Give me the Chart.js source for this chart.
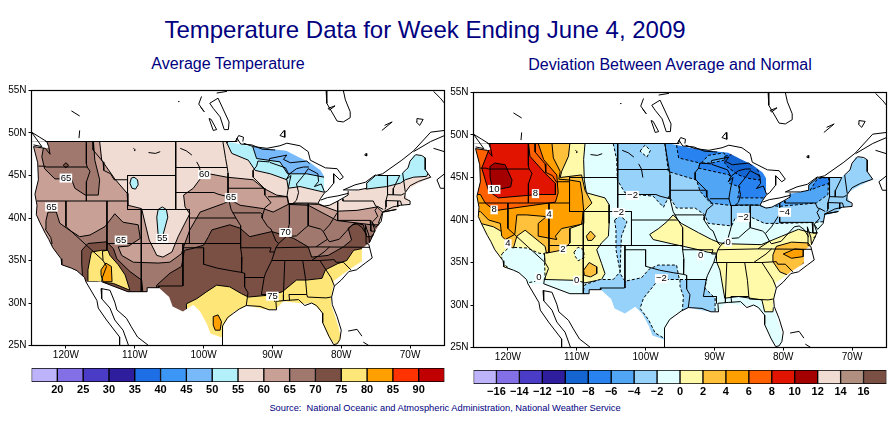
<!DOCTYPE html>
<html>
<head>
<meta charset="utf-8">
<title>Temperature Data for Week Ending June 4, 2009</title>
<script src="https://cdn.jsdelivr.net/npm/chart.js@4"></script>
<style>
  html, body { margin: 0; padding: 0; background: #fff; }
  body { width: 895px; height: 423px; position: relative; overflow: hidden; font-family: "Liberation Sans", Arial, sans-serif; color: #000080; }
  canvas { position: absolute; }
  .txt { position: absolute; white-space: pre; transform: translateX(-50%); }
  #title { left: 425px; top: 16px; font-size: 24px; }
  #subLeft { left: 228px; top: 55px; font-size: 16px; }
  #subRight { left: 670px; top: 56px; font-size: 16px; }
  #source { left: 445px; top: 403px; font-size: 9.3px; }
</style>
</head>
<body>
<div class="txt" id="title">Temperature Data for Week Ending June 4, 2009</div>
<div class="txt" id="subLeft">Average Temperature</div>
<div class="txt" id="subRight">Deviation Between Average and Normal</div>
<div class="txt" id="source">Source:  National Oceanic and Atmospheric Administration, National Weather Service</div>
<canvas id="mapTemp" width="450" height="285" style="left:0;top:80px"></canvas>
<canvas id="mapDev" width="450" height="285" style="left:445px;top:82px"></canvas>
<canvas id="barTemp" width="450" height="40" style="left:0;top:360px"></canvas>
<canvas id="barDev" width="450" height="40" style="left:445px;top:362px"></canvas>
<script>
// axis ticks
const lonTicks = [-120, -110, -100, -90, -80, -70];
const latTicks = [25, 30, 35, 40, 45, 50, 55];

// colour bars
const tempEdges = [15, 20, 25, 30, 35, 40, 45, 50, 55, 60, 65, 70, 75, 80, 85, 90, 95];
const tempColors = ['#bdb3fa', '#8470e6', '#4b3cc8', '#2e1e9e', '#1e6ee6', '#3c96f5', '#78b9fa', '#b4f0fa',
  '#f0dcd2', '#c8a096', '#a0786e', '#7a5045', '#ffe678', '#ffa000', '#ff3200', '#c00000'];
const devEdges = [-18, -16, -14, -12, -10, -8, -6, -4, -2, 0, 2, 4, 6, 8, 10, 12, 14, 16, 18];
const devColors = ['#bdb3fa', '#8470e6', '#4b3cc8', '#2e1e9e', '#1464d2', '#2882f0', '#50a5f5', '#96d2fa',
  '#e1ffff', '#fffaaa', '#ffc03c', '#ffa000', '#ff6000', '#e11400', '#a50000', '#f0dcd2', '#b08e80', '#7a5045'];

// whole map, lon/lat
const wholeMap = [[-125, 25], [-65, 25], [-65, 55], [-125, 55]];

// average temperature contours, lon/lat
const tempAbove60 = [[-115.1, 49], [-114.8, 46.8], [-112.9, 44.6], [-111.1, 42.9], [-111, 41.5], [-109, 41.1], [-108.5, 39.4],
  [-107.9, 37.4], [-106.8, 35.6], [-105.9, 35.4], [-104.6, 36], [-103.7, 37.8], [-102.7, 39.4], [-102, 40.5], [-102.7, 41.3],
  [-102.9, 42.7], [-101.5, 43.5], [-100.5, 44.6], [-99.2, 45.2], [-96.6, 44.8], [-92.8, 44.5], [-91.3, 43.5], [-89.4, 42.7],
  [-87.8, 42.5], [-87.7, 41.7], [-83.3, 41.6], [-80.6, 40.8], [-77.7, 40.9], [-74.8, 41.3], [-74, 40.7], [-74.6, 39.4],
  [-65, 39], [-65, 25], [-125, 25], [-125, 49]];
const tempNw65 = [[-123.1, 49], [-123.5, 47.2], [-123.1, 45.8], [-121.6, 44.6], [-119.2, 44.6], [-118.7, 43.5], [-117.2, 42.7],
  [-115.3, 42.7], [-115.1, 44.5], [-115.8, 46.8], [-116, 49]];
const tempNw70 = [[-120.4, 46.2], [-120, 46.5], [-119.6, 46.2], [-120, 45.9]];
const tempAbove65 = [[-122.6, 40.7], [-121.4, 40.7], [-120.9, 39.4], [-119.9, 38.8], [-118, 37.8], [-116.5, 38], [-114.3, 39],
  [-112.9, 40.5], [-111.7, 39.5], [-109.5, 39.2], [-109.2, 37.6], [-110.9, 36.7], [-112.4, 36.6], [-111.9, 35.6], [-110.2, 34.8],
  [-106.6, 34.7], [-104.9, 34.8], [-103.2, 35.8], [-102.9, 36.6], [-102, 38.6], [-101, 40], [-100.5, 40.7], [-97.1, 41.7],
  [-96, 42.1], [-94.7, 41.5], [-91.3, 41.1], [-89.9, 40.7], [-87.7, 41.6], [-84.8, 41.5], [-80.6, 39.7], [-75.6, 39.2],
  [-65, 39.2], [-65, 25], [-125, 25], [-125, 36], [-122, 37], [-122.2, 37.7], [-123, 38.7], [-122.9, 39.7]];
const tempAbove70 = [[-106.8, 32.1], [-104.9, 33.5], [-103.2, 34.3], [-103, 35.2], [-102.8, 36.2], [-101.7, 36.4], [-100, 36.8],
  [-99.3, 37.8], [-98.8, 38.6], [-96.2, 39.2], [-94.7, 38.8], [-93.3, 37.8], [-90.1, 38.4], [-88.4, 38], [-86.9, 37.6],
  [-84.8, 36.6], [-84.3, 35.4], [-81.9, 35.6], [-79.7, 36.6], [-78.5, 37.4], [-79, 38.8], [-78, 39.4], [-76.8, 39.2],
  [-76.3, 37.8], [-65, 37.8], [-65, 25], [-107, 25], [-107, 31]];
const tempSw70 = [[-117.7, 36.2], [-116.8, 37], [-114.1, 37.2], [-113.1, 36.4], [-112.6, 35.2], [-110.7, 33.7], [-109, 32.7],
  [-108.8, 31.1], [-113.1, 31.1], [-117.5, 31.9], [-117.7, 34.6]];
const tempAbove75 = [[-77, 36.4], [-78.2, 36.2], [-79.2, 35], [-80.6, 34.6], [-82.3, 33.9], [-82.8, 32.9], [-85, 32.7], [-86.5, 32.7],
  [-87.4, 32.1], [-88.6, 31.3], [-90.8, 30.9], [-93.5, 30.7], [-94.5, 31.1], [-96.2, 31.9], [-98.1, 32.1], [-99.6, 31.3],
  [-101, 30.5], [-102.5, 29.9], [-102.3, 25], [-65, 25], [-65, 36.4]];
const tempSw75 = [[-116.5, 35.2], [-116.3, 36], [-114.8, 36.2], [-113.9, 36.2], [-113.6, 35.6], [-112.4, 34.5], [-111.4, 33.3],
  [-110.7, 31.5], [-113.1, 32.3], [-115.5, 32.5], [-116.8, 32.5], [-116.8, 33.9]];
const tempSw80 = [[-114.9, 33.9], [-114.2, 34.7], [-113.4, 34.3], [-113.3, 32.5], [-114.6, 32.5], [-114.9, 33.3]];
const tempTx80 = [[-98.6, 28.4], [-97.9, 28.6], [-97.4, 27.8], [-97.6, 26.8], [-98.3, 26.8], [-98.6, 27.4]];
const tempBelow55North = [[-96.6, 48.8], [-95.9, 47.6], [-93.5, 46.8], [-92.5, 45.6], [-90.3, 45.2], [-87.9, 44.5], [-87.7, 43.5],
  [-86, 43.7], [-82.3, 43], [-80, 43], [-80, 50], [-96.6, 50]];
const tempBelow50North = [[-92.9, 48.5], [-92.3, 47], [-88.9, 46.6], [-87.8, 45.2], [-85, 45.2], [-82.5, 44.8], [-80, 45], [-80, 50], [-92.9, 50]];
const tempBelow55East = [[-76.4, 43.4], [-73.4, 43.7], [-71.4, 44.1], [-70.7, 44.5], [-69.5, 44.8], [-67.6, 44.9], [-66, 47.5], [-76.4, 47.5]];
const tempBelow55Wy = [[-110.7, 44.1], [-110.5, 44.7], [-110.1, 44.8], [-109.6, 44.5], [-109.5, 43.9], [-109.9, 43.4], [-110.4, 43.5]];
const tempBelow55Co = [[-106, 41.3], [-105.4, 41], [-105.2, 40.1], [-105.9, 38], [-106.6, 38], [-106.8, 40.1], [-106.6, 41]];

// deviation contours, lon/lat
const devWest0 = [[-108.8, 49], [-109, 47.1], [-108.9, 44.7], [-108.6, 43.2], [-105.9, 42.6], [-105.3, 41.8], [-105.3, 39.6],
  [-105.4, 38.1], [-106.4, 37.3], [-107.1, 36.5], [-106.4, 34.9], [-105.9, 33.7], [-106.4, 33], [-108.8, 32.6], [-110, 32.9],
  [-114.6, 33], [-115.6, 33.2], [-117.3, 32.8], [-125, 32.8], [-125, 49]];
const devEast0 = [[-99.4, 38.3], [-98.1, 39], [-96.9, 39.8], [-96, 40.6], [-94.8, 39.6], [-92.3, 38.5], [-90.4, 37.7], [-89.2, 37.3],
  [-88, 37.2], [-83.2, 37.1], [-80.2, 38.1], [-77.8, 38.9], [-75.9, 38.5], [-75, 38.5], [-75, 31.4], [-81.2, 31.4], [-81.5, 29.2],
  [-82.7, 29.2], [-83.1, 30.6], [-86.5, 31], [-88.5, 30.8], [-89.2, 34.1], [-89.7, 35.1], [-89.7, 36.1], [-90.9, 36.2],
  [-92.3, 36.5], [-94.5, 36.9], [-96.2, 37.2], [-98.9, 37.7]];
const devCaHole = [[-120.9, 36], [-119.8, 36.8], [-117.2, 36.7], [-115.5, 36.1], [-114.7, 36], [-114.6, 33], [-117.2, 32.6], [-120.9, 35]];
const devAzHole = [[-110.4, 36.2], [-109.8, 36.8], [-109, 36.5], [-108.9, 35.6], [-109.8, 35.2], [-110.2, 35.7]];
const devWest2 = [[-111, 49], [-111.2, 47.5], [-112.2, 45.7], [-112.4, 45], [-109.3, 45.3], [-108.8, 43.5], [-107.8, 42], [-109, 41],
  [-109, 39.6], [-111, 39], [-111, 37.3], [-111.9, 36.5], [-114.4, 36.1], [-114.6, 36.9], [-117.5, 38.8], [-118.7, 38.1],
  [-119.2, 36.7], [-119.9, 36.9], [-120.6, 38.5], [-122.1, 39.2], [-124, 39.6], [-125, 39.6], [-125, 49]];
const devNm2a = [[-108.6, 38.1], [-108, 38.7], [-107.3, 38.1], [-107.8, 37.6], [-108.4, 37.6]];
const devNm2b = [[-109, 34.1], [-108.2, 35], [-107.1, 34.5], [-107.1, 33.7], [-108, 33.3], [-108.9, 33.5]];
const devNc2 = [[-81.5, 35.9], [-81, 36.9], [-78.8, 37.4], [-76.4, 37.3], [-75.4, 36.3], [-77.8, 34.3], [-79.3, 33.5], [-80.5, 33.9], [-81.5, 35.1]];
const devNc4 = [[-80, 36], [-78.3, 36.6], [-77, 36.5], [-77.1, 35.7], [-78.8, 35.5]];
const devWest4 = [[-113.6, 49], [-113.4, 47.3], [-112.4, 45.7], [-112.6, 44.8], [-111, 44.7], [-109.5, 44.5], [-109.2, 43], [-109, 41.1],
  [-109.3, 39.5], [-111, 39.2], [-112.2, 39], [-113.1, 38.1], [-112.9, 37.7], [-115.6, 38.1], [-115.6, 39.6], [-114.4, 40.4],
  [-117.3, 40.6], [-118.7, 40.6], [-119, 38.3], [-120.4, 37.7], [-120.9, 38.1], [-121.1, 39.6], [-122.8, 40], [-124, 41],
  [-125, 41], [-125, 49]];
const devWest6 = [[-115.6, 49], [-114.8, 47.1], [-112.9, 45.3], [-112.7, 43.2], [-113.1, 42.1], [-121.9, 41.1], [-123.3, 42], [-124, 43], [-125, 43], [-125, 49]];
const devWest8 = [[-117, 49], [-116.8, 47.5], [-114.6, 45.5], [-113.1, 44.3], [-113.1, 43], [-115.6, 43], [-121.4, 42.6], [-122.8, 43.4],
  [-123.8, 46.1], [-122.6, 48.6], [-122.6, 49]];
const devWest10 = [[-122.6, 46.3], [-121.9, 46.7], [-120.4, 46.5], [-119.4, 44.7], [-119.6, 43.9], [-121.4, 43.6], [-122.3, 43.9], [-122.6, 45.1]];
const devNorthMinus2 = [[-104.7, 49], [-104.2, 47.1], [-104.1, 44.7], [-103, 43.2], [-101.3, 43], [-98.9, 42.8], [-97.4, 41.5], [-96.6, 42.8],
  [-95.5, 41.4], [-92.8, 41.4], [-91.4, 40.6], [-90.9, 39.6], [-87.5, 39.3], [-87, 40.2], [-84.6, 40.3], [-82.7, 39.6], [-80.7, 39.6],
  [-75.9, 39.7], [-74.2, 39.8], [-65, 39.8], [-65, 50], [-104.7, 50]];
const devNdHole = [[-100.8, 48.1], [-100.1, 48.8], [-99.3, 48.2], [-99.8, 47.4]];
const devTxMinus2 = [[-104.5, 40], [-103.7, 40.5], [-102.7, 39.8], [-103.5, 38.1], [-103.6, 36.5], [-103.7, 33.7], [-103, 32.8], [-100.6, 33.2],
  [-99.5, 34.2], [-98.2, 34.7], [-95.5, 34.7], [-95.1, 33], [-98.1, 33], [-100.3, 30.8], [-100.8, 29.6], [-99.6, 28.3], [-98.6, 26.7],
  [-96.9, 25.9], [-96.9, 25], [-109, 25], [-109, 31.8], [-108.8, 32.4], [-106.6, 33], [-104.7, 33], [-103.7, 33.9], [-104.3, 36.5], [-104.3, 38.8]];
const devLaMinus2 = [[-95, 33], [-91.1, 33], [-91.4, 32], [-89.9, 30.8], [-89.9, 29], [-94.7, 29], [-94.5, 31], [-95, 32.2]];
const devNorthMinus4 = [[-97.2, 49], [-96.7, 45.7], [-92.6, 44.7], [-92.1, 43.4], [-90.6, 42], [-87.5, 41.7], [-82.4, 41.8], [-80.6, 41.6],
  [-75.2, 42], [-73.5, 43], [-73.4, 45], [-73.4, 50], [-97.2, 50]];
const devNorthMinus6 = [[-95.5, 48.8], [-95.2, 47.3], [-92.1, 46.7], [-92.3, 46.1], [-87.8, 45.3], [-87.8, 44.3], [-86.3, 43.9], [-86.6, 42.6],
  [-81.9, 42.6], [-81, 42.6], [-81, 50], [-95.5, 50]];
const devNyMinus6 = [[-76.1, 43.5], [-75, 44.9], [-73.4, 45], [-73.4, 44.3], [-74.9, 43.9]];
const devMnMinus4 = [[-91.9, 46.7], [-90.9, 47.6], [-88.6, 47.9], [-88.3, 47.1], [-90.4, 46.7]];
const devNorthMinus8 = [[-88.5, 47.5], [-86.5, 47.9], [-84.4, 46.9], [-83.6, 45.7], [-83.4, 44.7], [-85.1, 44.9], [-86.5, 45.3], [-87.9, 46.1], [-88.5, 46.7]];

// everything outside the gridded area, lon/lat
const maskNorth = [[-125, 55], [-125, 49], [-96.6, 49], [-93, 48.4], [-90, 48.1], [-88, 47.9], [-86.3, 47.2], [-84.5, 46.5], [-83, 45.6],
  [-82.5, 44.9], [-82.5, 43], [-83.3, 41.8], [-82.5, 41.5], [-81.5, 41.6], [-80.5, 42], [-79.2, 42.5], [-79, 43.1], [-77.5, 43.3],
  [-76.3, 43.5], [-76.3, 44.2], [-75, 44.9], [-74.7, 45], [-71.5, 45], [-71.2, 45.3], [-70.5, 45.6], [-70, 46.5], [-69.5, 47.4],
  [-68.5, 47.3], [-67.8, 47.1], [-67.8, 45.7], [-67, 44.8], [-65, 44.8], [-65, 55]];
const maskSouth = [[-125, 49], [-122.8, 49], [-122.5, 48.3], [-123, 48.2], [-124.7, 48.4], [-124.1, 46.5], [-124, 44.5], [-124.5, 42.8],
  [-124.2, 41.5], [-124.3, 40.4], [-123.8, 39.5], [-123, 38.2], [-122.5, 37.5], [-121.9, 36.5], [-120.7, 35.2], [-120.6, 34.5],
  [-119.2, 34.1], [-118.4, 33.8], [-117.3, 33], [-117.1, 32.5], [-114.8, 32.5], [-111, 31.3], [-108.2, 31.3], [-108.2, 31.8],
  [-106.5, 31.8], [-105, 30.7], [-104.5, 29.6], [-103, 29], [-101.5, 29.8], [-100.5, 29], [-99.5, 27.5], [-99, 26.4], [-97.2, 25.9],
  [-97.1, 27.5], [-95.7, 28.9], [-93.7, 29.7], [-91.3, 29.3], [-89.6, 29.2], [-88.4, 30.2], [-85.3, 29.9], [-84.3, 30], [-83.5, 29.5],
  [-82.7, 28.8], [-82.7, 27.7], [-81.8, 26], [-81, 25.2], [-80.4, 25.2], [-80.1, 26], [-80.4, 27.2], [-81.5, 29.9], [-81.4, 30.7],
  [-81.1, 32.6], [-78.9, 33.9], [-77, 34.9], [-77, 36.4], [-75.9, 37.1], [-75.1, 38.4], [-74.2, 39.6], [-74, 40.5], [-72, 41],
  [-71.4, 41.5], [-70, 41.7], [-70.7, 42.7], [-70.5, 43.3], [-69, 44], [-67, 44.8], [-65, 44.8], [-65, 25], [-125, 25]];

// coasts, lakes and borders, lon/lat
const coastLines = [
  [[-122.8, 49], [-122.5, 48.4], [-122.3, 47.5], [-123, 48.2], [-124.7, 48.4], [-124.1, 46.5], [-124, 44.5], [-124.5, 42.8], [-124.2, 41.5],
    [-124.3, 40.4], [-123.8, 39.5], [-123, 38.2], [-122.5, 37.5], [-121.9, 36.5], [-120.7, 35.2], [-120.6, 34.5], [-119.2, 34.1],
    [-118.4, 33.8], [-117.3, 33], [-117.1, 32.5]],
  [[-125, 50.1], [-123.5, 48.4], [-124.7, 48.6]],
  [[-125, 50.1], [-123.8, 49.5], [-122.8, 49]],
  [[-97.2, 25], [-97.2, 25.9], [-97.3, 27.3], [-96.5, 28.3], [-94.8, 29.3], [-93.8, 29.7], [-91.8, 29.6], [-90.5, 29.2], [-89.4, 29.2],
    [-89.5, 30.2], [-88, 30.3], [-86.2, 30.4], [-85.3, 29.7], [-84.3, 30], [-83.6, 29.7], [-82.7, 28.8], [-82.7, 27.7], [-81.8, 26.1],
    [-81.1, 25.1], [-80.6, 25.2], [-80.2, 25.7], [-80, 26.8], [-80.6, 28.4], [-81.3, 29.8], [-81.4, 30.7], [-81, 32], [-80, 32.7],
    [-78.9, 33.7], [-77.8, 33.9], [-76.5, 34.7], [-75.5, 35.3], [-76, 36.9], [-76.3, 37], [-76.4, 38], [-76.5, 39.2], [-76, 38],
    [-75.9, 37.1], [-75.1, 38.5], [-75.5, 39.5], [-75, 38.9], [-74.2, 39.6], [-74, 40.5], [-74, 40.7], [-72, 41], [-74, 40.7],
    [-72.5, 41.3], [-71.4, 41.5], [-70, 41.6], [-70, 42], [-70.8, 42.3], [-70.7, 43], [-70, 43.8], [-68.8, 44.3], [-67, 44.8]],
  [[-117.1, 32.5], [-115.5, 30.3], [-115.3, 29.4], [-114.1, 28], [-112.2, 26], [-112.2, 25]],
  [[-114.9, 31.7], [-113.6, 31.5], [-112.9, 30.1], [-112.6, 29.2], [-111.2, 28.2], [-110.5, 27.2], [-109.6, 26], [-108, 25]],
  [[-114.9, 31.7], [-114.8, 30.5], [-113.6, 29.4], [-112.9, 28], [-111.7, 26.8], [-110.9, 25]],
  [[-79, 26.7], [-77.7, 26.9], [-77, 26.1]],
  [[-76.8, 25.4], [-76, 25]]
];
const lakeLines = [
  [[-92.1, 46.7], [-90.5, 46.6], [-90.4, 47], [-88.5, 47.3], [-87.9, 47.4], [-88.4, 46.9], [-87.4, 46.5], [-85, 46.7], [-84.6, 46.4]],
  [[-84.7, 46], [-85.5, 46], [-86.5, 45.8], [-87.5, 45.2], [-88, 44.5], [-87.3, 45], [-87.5, 44.3], [-87.7, 43.5], [-87.9, 42.5], [-87.6, 41.7],
    [-87, 41.7], [-86.5, 42.1], [-86.2, 43], [-86.5, 44], [-85.5, 45], [-84.8, 45.8], [-83.4, 45.2], [-83.3, 44.3], [-83.9, 43.7],
    [-82.9, 44], [-82.4, 43], [-83, 42.3], [-83.4, 41.7], [-82.5, 41.4], [-81.7, 41.5], [-80.5, 42], [-79, 42.7], [-79, 43.2]],
  [[-83, 42.1], [-82, 42.4], [-80.5, 42.6], [-79, 42.9]],
  [[-79.7, 43.3], [-79, 43.3], [-77.5, 43.3], [-76.3, 43.5], [-76.3, 44.1], [-75, 45], [-74, 45.2], [-71.2, 46.8], [-69.5, 47.9], [-67, 50.1], [-65, 50.3]],
  [[-79.7, 43.3], [-78, 43.9], [-76.5, 44.2], [-75, 45.1]],
  [[-69.5, 47.8], [-67, 49], [-65, 49.7]],
  [[-66.6, 48.2], [-65, 47.8]],
  [[-65, 45.2], [-66.1, 44.5], [-65.6, 43.5], [-65, 43.5]],
  [[-94.2, 48.8], [-92.8, 48.4], [-90.8, 48.2], [-88.9, 48.5], [-87.9, 48.8], [-86, 48.5], [-84.8, 47.8], [-84.5, 46.8], [-82.3, 45.9],
    [-80.6, 45.8], [-79.7, 44.8], [-80.2, 44.5], [-81.1, 45.2], [-81.1, 44.1], [-82, 43.2], [-82.4, 43]],
  [[-82.2, 55], [-82.1, 53.5], [-80.6, 51.4], [-79.7, 51.3], [-78.7, 51.8], [-78.7, 52.5], [-79.4, 53.9], [-79.7, 55]],
  [[-81.9, 52.9], [-80.9, 53.2], [-81.7, 52.7], [-81.9, 52.9]],
  [[-99.1, 53.5], [-97.9, 54.1], [-96.3, 51.3], [-96.4, 50.4], [-97, 50.4], [-97.6, 51.9], [-98.6, 52.9], [-99.1, 53.5]],
  [[-98.1, 54.7], [-96.6, 54.9]],
  [[-100.3, 54.3], [-100.7, 53.4], [-99.9, 52.5], [-100.4, 53]],
  [[-99.2, 51.7], [-98.6, 50.3], [-98.1, 50.4], [-98.9, 51.6], [-99.2, 51.7]],
  [[-95.4, 49], [-94.9, 49.7], [-94.2, 49.5], [-94.3, 49]],
  [[-88.9, 49.7], [-88.3, 50.3], [-88.2, 49.5], [-88.9, 49.7]],
  [[-119.2, 52.6], [-118, 52]],
  [[-118, 50.3], [-118.1, 49.4]],
  [[-103.7, 53.7], [-103.5, 53.7]],
  [[-74.1, 50.3], [-72.6, 51.3], [-73.7, 50.9]],
  [[-69, 51.7], [-68.1, 51.6], [-68.6, 50.9], [-69.1, 51.3], [-69, 51.7]],
  [[-76.6, 47.4], [-76.4, 47.6], [-76.3, 47.3], [-76.6, 47.4]],
  [[-66.6, 54.9], [-65.6, 54.1], [-65, 53.5]],
  [[-110.2, 48.2], [-109.9, 48], [-110.1, 47.9]],
  [[-108, 47.7], [-107, 47.6], [-106.3, 47.8]],
  [[-103.4, 48.2], [-102.5, 47.9], [-101.7, 47.4]],
  [[-101, 46.6], [-100.6, 46], [-100.4, 45]]
];
const stateLines = [
  [[-123, 49], [-95.15, 49], [-95.15, 49.4], [-94.6, 48.7], [-93, 48.6], [-91.5, 48.1], [-89.6, 48]],
  [[-124, 46.1], [-123.2, 46.1], [-122.8, 46], [-116.92, 46]],
  [[-117.03, 49], [-117.03, 46.4], [-116.92, 46], [-116.5, 45.5], [-117, 44.3], [-117.03, 42]],
  [[-124.2, 42], [-111.05, 42]],
  [[-120, 42], [-120, 39], [-114.6, 35], [-114.1, 34.3], [-114.7, 33], [-114.8, 32.5], [-111, 31.33], [-108.2, 31.33], [-108.2, 31.8], [-106.5, 31.8]],
  [[-114.04, 42], [-114.04, 36.2], [-114.7, 36.1], [-114.6, 35]],
  [[-109.05, 41], [-109.05, 31.33]],
  [[-111.05, 45], [-111.05, 41]],
  [[-116.05, 49], [-116.05, 48], [-114.6, 46.6], [-114.5, 45.6], [-113.5, 45.2], [-113, 44.5], [-111.05, 44.5]],
  [[-111.05, 45], [-104.05, 45]],
  [[-111.05, 41], [-102.05, 41], [-102.05, 37]],
  [[-104.05, 49], [-104.05, 41]],
  [[-114.04, 37], [-94.62, 37]],
  [[-104.05, 45.94], [-96.56, 45.94]],
  [[-104.05, 43], [-98.5, 43], [-97.9, 42.8], [-96.45, 42.5]],
  [[-97.2, 49], [-96.8, 47], [-96.56, 45.94], [-96.45, 45.3], [-96.45, 42.5], [-96, 41], [-95.3, 40], [-94.62, 39.1], [-94.62, 36.5],
    [-94.43, 35.4], [-94.48, 33.6], [-94.04, 33.5], [-94.04, 31.9], [-93.55, 31.2], [-93.8, 29.7]],
  [[-102.05, 40], [-95.3, 40]],
  [[-103, 37], [-103, 32]],
  [[-103, 36.5], [-100, 36.5], [-100, 34.56], [-98, 34.1], [-96, 33.8], [-94.48, 33.6]],
  [[-103.06, 32], [-106.62, 32], [-106.5, 31.8]],
  [[-95.77, 40.6], [-91.7, 40.6], [-91.4, 40.4]],
  [[-96.45, 43.5], [-91.2, 43.5]],
  [[-92.1, 46.7], [-92.3, 46.1], [-92.8, 45.6], [-92.8, 44.8], [-91.2, 43.5], [-91.1, 42.7], [-90.2, 41.8], [-91.1, 41.2], [-91.4, 40.4],
    [-91.5, 40], [-90.7, 39], [-90.2, 38.7], [-89.5, 37.3], [-89.1, 37], [-89.5, 36.5], [-90.1, 35], [-91, 33.5], [-91.2, 33], [-91.5, 31.5],
    [-91.6, 31], [-89.7, 31], [-89.7, 30.2]],
  [[-90.64, 42.5], [-87.8, 42.5]],
  [[-90.4, 46.55], [-88.1, 45.9], [-87.6, 45.1]],
  [[-87.53, 41.7], [-87.53, 39.3], [-88, 37.9]],
  [[-89.1, 37], [-88, 37.8], [-86.5, 37.9], [-85.4, 38.7], [-84.8, 39.1], [-83, 38.7], [-82.6, 38.4], [-81.7, 39.2], [-80.6, 40.6]],
  [[-84.8, 41.7], [-84.8, 39.1]],
  [[-87, 41.76], [-84.8, 41.76], [-83.45, 41.73]],
  [[-80.52, 42], [-80.52, 39.72], [-75.8, 39.72]],
  [[-82.6, 38.4], [-82, 37.5], [-81.7, 37.2], [-80.3, 37.5], [-79.3, 38.4], [-78.4, 39.2], [-77.7, 39.3], [-77, 38.9], [-76.3, 38]],
  [[-83.68, 36.6], [-82, 37.5]],
  [[-89.5, 36.5], [-83.68, 36.6], [-75.9, 36.55]],
  [[-90.1, 35], [-84.3, 35], [-82.5, 36], [-81.7, 36.6]],
  [[-84.3, 35], [-83.1, 35], [-81, 35.1], [-80.8, 34.8], [-79.7, 34.8], [-78.6, 33.9]],
  [[-83.1, 35], [-81.5, 33], [-81, 32]],
  [[-85.6, 35], [-85.2, 32.9], [-85, 31]],
  [[-87.6, 31], [-85, 31], [-84.9, 30.7], [-82.2, 30.6], [-81.5, 30.7]],
  [[-88.2, 35], [-88.4, 31], [-88.4, 30.3]],
  [[-87.6, 31], [-87.5, 30.3]],
  [[-94.62, 36.5], [-90.2, 36.5], [-90.4, 36], [-89.7, 36]],
  [[-94.04, 33], [-91.2, 33]],
  [[-79.76, 42.27], [-79.76, 42], [-75.35, 42], [-75, 41.4], [-74.7, 41.35], [-73.9, 41]],
  [[-73.3, 45], [-73.3, 43.6], [-73.25, 42.75], [-73.5, 42.05], [-73.5, 41.3], [-73.65, 41]],
  [[-71.5, 45], [-72.4, 43.5], [-72.45, 42.73]],
  [[-73.25, 42.75], [-71.3, 42.7], [-70.8, 42.9]],
  [[-73.5, 42.05], [-71.4, 42], [-71.2, 41.5]],
  [[-71.8, 42], [-71.8, 41.3]],
  [[-71.08, 45.3], [-70.7, 43.1]],
  [[-71.08, 45.3], [-70.3, 45.9], [-70, 46.7], [-69.2, 47.45], [-68.3, 47.35], [-67.8, 47.07], [-67.8, 45.7], [-67, 44.8]],
  [[-74.7, 45], [-71.5, 45]],
  [[-74.7, 41.35], [-75.1, 40.9], [-74.7, 40.2], [-75.5, 39.5]],
  [[-75.8, 39.72], [-75.7, 38.46], [-75.05, 38.45]],
  [[-75.6, 37.95], [-75.25, 38.03]]
];

// contour labels: text, lon, lat
const tempLabels = [['65', -120, 44.7], ['65', -122.1, 41.3], ['65', -112, 37.4], ['60', -99.9, 45.1], ['65', -96, 42.4],
  ['70', -88.1, 38.3], ['75', -90, 30.8], ['55', -106, 37.6]];
const devLabels = [['10', -122, 43.6], ['8', -116, 43.1], ['8', -122, 41.2], ['4', -114, 40.7], ['4', -120, 37.2], ['2', -112, 36.6],
  ['\u22122', -101.9, 42.9], ['\u22122', -103.9, 40.9], ['\u22122', -85.8, 40.3], ['\u22124', -79.8, 40.9], ['0', -88, 37.4], ['0', -92, 35.8],
  ['0', -115.5, 33.2], ['0', -110, 32.9], ['\u22122', -97.7, 33.1]];

// painter's order: polygon and the value it is filled with
const tempLayers = [[wholeMap, 57], [tempAbove60, 62], [tempNw65, 67], [tempNw70, 72], [tempAbove65, 67], [tempAbove70, 72], [tempSw70, 72],
  [tempAbove75, 77], [tempSw75, 77], [tempSw80, 82], [tempTx80, 82], [tempBelow55North, 52], [tempBelow50North, 47], [tempBelow55East, 52],
  [tempBelow55Wy, 52], [tempBelow55Co, 52]];
const devLayers = [[wholeMap, -1], [devWest0, 1], [devEast0, 1], [devCaHole, -1], [devAzHole, -1], [devWest2, 3], [devNm2a, 3], [devNm2b, 3],
  [devNc2, 3], [devNc4, 5], [devWest4, 5], [devWest6, 7], [devWest8, 9], [devWest10, 11], [devNorthMinus2, -3], [devNdHole, -1],
  [devTxMinus2, -3], [devLaMinus2, -3], [devNorthMinus4, -5], [devNorthMinus6, -7], [devNyMinus6, -7], [devMnMinus4, -5], [devNorthMinus8, -9]];

const toPoints = (poly) => poly.map(([x, y]) => ({ x, y }));
const closed = (poly) => toPoints(poly.concat([poly[0]]));
const colorOf = (edges, colors, v) => colors[edges.findIndex((e) => e > v) - 1];

const lineSet = (poly) => ({
  data: toPoints(poly), showLine: true, fill: false, pointRadius: 0, borderColor: '#000', borderWidth: 1,
  borderJoinStyle: 'round', tension: 0
});

function mapDatasets(layers, edges, colors) {
  const sets = layers.map(([poly, v], i) => ({
    data: closed(poly), showLine: true, fill: 'shape', backgroundColor: colorOf(edges, colors, v),
    pointRadius: 0, borderColor: '#000', borderWidth: i === 0 ? 0 : 1, borderDash: v < 0 ? [3, 2] : [],
    borderJoinStyle: 'round', tension: 0
  }));
  [maskNorth, maskSouth].forEach((poly) => sets.push({
    data: closed(poly), showLine: true, fill: 'shape', backgroundColor: '#fff', pointRadius: 0, borderWidth: 0, tension: 0
  }));
  coastLines.concat(lakeLines, stateLines).forEach((poly) => sets.push(lineSet(poly)));
  // later entries sit on top
  sets.forEach((s, i) => { s.order = sets.length - i; });
  return sets;
}

const mapDecor = (labels) => ({
  id: 'mapDecor',
  afterDatasetsDraw(chart) {
    const { ctx, chartArea: a, scales } = chart;
    ctx.save();
    ctx.font = '9.5px "Liberation Sans", Arial, sans-serif';
    ctx.textAlign = 'center';
    ctx.textBaseline = 'middle';
    labels.forEach(([text, lon, lat]) => {
      const x = scales.x.getPixelForValue(lon);
      const y = scales.y.getPixelForValue(lat);
      const w = ctx.measureText(text).width + 2;
      ctx.fillStyle = '#fff';
      ctx.fillRect(x - w / 2, y - 4.5, w, 9);
      ctx.fillStyle = '#000';
      ctx.fillText(text, x, y);
    });
    ctx.strokeStyle = '#000';
    ctx.lineWidth = 1.2;
    ctx.strokeRect(a.left, a.top, a.right - a.left, a.bottom - a.top);
    ctx.restore();
  }
});

function drawMap(id, layers, edges, colors, labels, leftPad, rightPad) {
  const tickFont = { family: '"Liberation Sans", Arial, sans-serif', size: 10 };
  new Chart(document.getElementById(id), {
    type: 'scatter',
    data: { datasets: mapDatasets(layers, edges, colors) },
    plugins: [mapDecor(labels)],
    options: {
      responsive: false,
      animation: false,
      layout: { autoPadding: false, padding: { left: 0, top: 10.5, right: rightPad, bottom: 0 } },
      plugins: { legend: { display: false }, title: { display: false }, tooltip: { enabled: false } },
      scales: {
        x: {
          type: 'linear', min: -125, max: -65,
          afterBuildTicks: (s) => { s.ticks = lonTicks.map((value) => ({ value })); },
          afterFit: (s) => { s.height = 19.5; },
          grid: { drawOnChartArea: false, color: '#000', tickLength: 3 },
          border: { color: '#000' },
          ticks: { color: '#000', font: tickFont, padding: 1, maxRotation: 0, autoSkip: false, callback: (v) => `${-v}W` }
        },
        y: {
          type: 'linear', min: 25, max: 55,
          afterBuildTicks: (s) => { s.ticks = latTicks.map((value) => ({ value })); },
          afterFit: (s) => { s.width = leftPad; },
          grid: { drawOnChartArea: false, color: '#000', tickLength: 3 },
          border: { color: '#000' },
          ticks: { color: '#000', font: tickFont, padding: 2, autoSkip: false, callback: (v) => `${v}N` }
        }
      }
    }
  });
}

function drawBar(id, edges, colors, leftPad, rightPad) {
  new Chart(document.getElementById(id), {
    type: 'bar',
    data: {
      labels: [''],
      datasets: colors.map((c, i) => ({
        data: [[edges[i], edges[i + 1]]], backgroundColor: c, borderColor: '#000', borderWidth: 1, borderSkipped: false,
        grouped: false, barPercentage: 1, categoryPercentage: 1
      }))
    },
    options: {
      indexAxis: 'y',
      responsive: false,
      animation: false,
      layout: { autoPadding: false, padding: { left: leftPad, right: rightPad, top: 8, bottom: 0 } },
      plugins: { legend: { display: false }, title: { display: false }, tooltip: { enabled: false } },
      scales: {
        y: { display: false },
        x: {
          type: 'linear', min: edges[0], max: edges[edges.length - 1],
          afterBuildTicks: (s) => { s.ticks = edges.slice(1, -1).map((value) => ({ value })); },
          afterFit: (s) => { s.height = 18; },
          grid: { display: false, drawTicks: false, tickLength: 0 },
          border: { display: false },
          ticks: {
            color: '#000', padding: 1, maxRotation: 0, autoSkip: false,
            font: { family: '"Liberation Sans", Arial, sans-serif', size: 11, weight: 'bold' },
            callback: (v) => String(v).replace('-', '\u2212')
          }
        }
      }
    }
  });
}

drawMap('mapTemp', tempLayers, tempEdges, tempColors, tempLabels, 31.5, 5.5);
drawMap('mapDev', devLayers, devEdges, devColors, devLabels, 28.5, 8.5);
drawBar('barTemp', tempEdges, tempColors, 31.5, 5.5);
drawBar('barDev', devEdges, devColors, 28.5, 8.5);
</script>
</body>
</html>
